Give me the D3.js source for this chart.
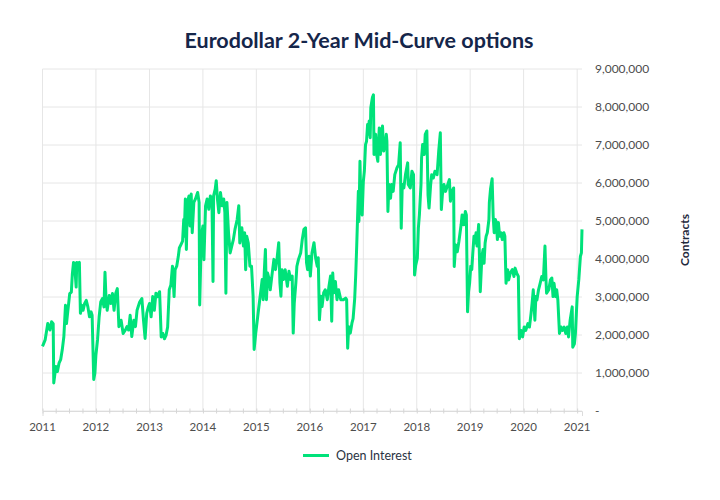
<!DOCTYPE html>
<html>
<head>
<meta charset="utf-8">
<script src="https://cdn.jsdelivr.net/npm/d3@7"></script>
<style>
  body { margin: 0; background: #fff; }
  svg { display: block; font-family: Lato, "Open Sans", sans-serif; }
</style>
</head>
<body>
<script>
// open interest: time as decimal year, value in millions of contracts
var years = [
  2011.00, 2011.05, 2011.10, 2011.14, 2011.17, 2011.20, 2011.21, 2011.25, 2011.28, 2011.31,
  2011.34, 2011.37, 2011.40, 2011.43, 2011.45, 2011.48, 2011.51, 2011.54, 2011.56, 2011.58,
  2011.60, 2011.63, 2011.64, 2011.67, 2011.69, 2011.71, 2011.74, 2011.76, 2011.79, 2011.82,
  2011.85, 2011.88, 2011.91, 2011.93, 2011.96, 2011.98, 2012.00, 2012.03, 2012.06, 2012.09,
  2012.12, 2012.15, 2012.17, 2012.19, 2012.21, 2012.25, 2012.28, 2012.31, 2012.34, 2012.37,
  2012.40, 2012.43, 2012.47, 2012.51, 2012.55, 2012.58, 2012.61, 2012.64, 2012.67, 2012.71,
  2012.74, 2012.77, 2012.82, 2012.86, 2012.89, 2012.92, 2012.95, 2012.98,
  2013.00, 2013.03, 2013.06, 2013.09, 2013.12, 2013.15, 2013.19, 2013.22, 2013.25, 2013.28,
  2013.31, 2013.34, 2013.37, 2013.40, 2013.43, 2013.46, 2013.48, 2013.51, 2013.54, 2013.56,
  2013.59, 2013.62, 2013.64, 2013.65, 2013.67, 2013.69, 2013.71, 2013.74, 2013.76, 2013.78,
  2013.80, 2013.83, 2013.86, 2013.90, 2013.93, 2013.94, 2013.97, 2014.00, 2014.02, 2014.05,
  2014.08, 2014.11, 2014.14, 2014.17, 2014.19, 2014.20, 2014.23, 2014.25, 2014.27, 2014.30,
  2014.33, 2014.36, 2014.39, 2014.41, 2014.43, 2014.45, 2014.48, 2014.51, 2014.54, 2014.57,
  2014.60, 2014.64, 2014.67, 2014.69, 2014.71, 2014.73, 2014.76, 2014.78, 2014.80, 2014.82,
  2014.85, 2014.88, 2014.91, 2014.94, 2014.96, 2014.99,
  2015.01, 2015.04, 2015.08, 2015.11, 2015.13, 2015.15, 2015.17, 2015.19, 2015.21, 2015.24,
  2015.26, 2015.29, 2015.33, 2015.36, 2015.39, 2015.42, 2015.44, 2015.46, 2015.48, 2015.51,
  2015.54, 2015.58, 2015.61, 2015.64, 2015.67, 2015.69, 2015.71, 2015.74, 2015.76, 2015.79,
  2015.83, 2015.86, 2015.89, 2015.92, 2015.94, 2015.96, 2015.99, 2016.01, 2016.04, 2016.08,
  2016.11, 2016.14, 2016.16, 2016.18, 2016.21, 2016.23, 2016.26, 2016.29, 2016.33, 2016.36,
  2016.39, 2016.41, 2016.43, 2016.45, 2016.48, 2016.51, 2016.54, 2016.58, 2016.63, 2016.67,
  2016.69, 2016.71, 2016.73, 2016.76, 2016.79,
  2016.81, 2016.84, 2016.86, 2016.88, 2016.91, 2016.92, 2016.94, 2016.96, 2016.98, 2017.00,
  2017.02, 2017.04, 2017.06, 2017.08, 2017.09, 2017.11, 2017.13, 2017.14, 2017.17, 2017.19,
  2017.20, 2017.22, 2017.23, 2017.25, 2017.27, 2017.28, 2017.30, 2017.32, 2017.34, 2017.36,
  2017.38, 2017.41, 2017.43, 2017.44, 2017.46, 2017.48, 2017.51, 2017.53, 2017.56, 2017.59,
  2017.63, 2017.66, 2017.69, 2017.71, 2017.73, 2017.76, 2017.79, 2017.83, 2017.84, 2017.88,
  2017.91, 2017.94, 2017.96, 2017.98, 2018.01, 2018.03, 2018.05, 2018.08, 2018.09, 2018.11,
  2018.14, 2018.16, 2018.19, 2018.21, 2018.23, 2018.26, 2018.28, 2018.31, 2018.34, 2018.38,
  2018.41, 2018.44, 2018.46, 2018.48, 2018.51, 2018.54, 2018.58, 2018.61, 2018.63, 2018.66,
  2018.69, 2018.70, 2018.73, 2018.76, 2018.79, 2018.83, 2018.85, 2018.88, 2018.91, 2018.93,
  2018.95, 2018.97,
  2018.99, 2019.01, 2019.03, 2019.05, 2019.07, 2019.09, 2019.11, 2019.13, 2019.16, 2019.18,
  2019.19, 2019.22, 2019.24, 2019.26, 2019.28, 2019.30, 2019.32, 2019.35, 2019.36, 2019.38,
  2019.41, 2019.43, 2019.45, 2019.47, 2019.49, 2019.51, 2019.53, 2019.55, 2019.58, 2019.60,
  2019.63, 2019.65, 2019.67, 2019.70, 2019.72, 2019.75, 2019.79, 2019.82, 2019.84, 2019.87,
  2019.90, 2019.92, 2019.95, 2019.98, 2020.01, 2020.04, 2020.08, 2020.11, 2020.14, 2020.16,
  2020.18, 2020.21, 2020.23, 2020.25, 2020.28, 2020.31, 2020.34, 2020.37, 2020.40, 2020.42,
  2020.43, 2020.47, 2020.50, 2020.53, 2020.55, 2020.57, 2020.60, 2020.62, 2020.64, 2020.67,
  2020.70, 2020.73, 2020.76, 2020.79, 2020.82, 2020.84, 2020.87, 2020.91, 2020.92, 2020.95,
  2020.97, 2021.00, 2021.03, 2021.06, 2021.08, 2021.09
];

var openInterest = [
  1.70, 1.87, 2.30, 2.13, 2.35, 2.30, 0.74, 1.17, 1.04, 1.26,
  1.35, 1.61, 1.96, 2.78, 2.30, 2.70, 3.09, 3.13, 3.61, 3.91,
  3.87, 3.26, 3.91, 3.87, 3.91, 2.57, 2.78, 2.65, 2.83, 2.91,
  2.74, 2.48, 2.61, 2.52, 0.83, 1.00, 1.48, 1.87, 2.48, 2.87,
  2.96, 2.74, 3.65, 2.96, 2.65, 3.04, 2.83, 3.09, 2.65, 3.09,
  3.22, 2.22, 2.39, 2.04, 2.13, 2.22, 2.13, 2.52, 1.96, 2.39,
  2.22, 2.65, 2.87, 2.96, 2.39, 1.91, 2.57, 2.74,
  2.83, 2.48, 3.01, 2.65, 3.10, 3.01, 3.14, 1.95, 2.04, 1.90,
  1.99, 2.21, 3.19, 3.32, 3.81, 3.01, 3.72, 3.81, 4.07, 4.29,
  4.38, 4.47, 5.04, 4.60, 5.58, 4.25, 5.49, 5.66, 4.87, 5.71,
  4.69, 5.49, 5.58, 5.75, 5.49, 2.79, 4.60, 4.87, 3.98, 5.40,
  5.58, 5.31, 5.66, 5.49, 3.41, 5.66, 5.84, 6.06, 5.58, 5.22,
  5.75, 5.40, 5.58, 5.22, 3.10, 5.49, 4.69, 4.16, 4.34, 4.51,
  4.78, 5.04, 5.40, 4.42, 4.69, 4.82, 4.34, 4.69, 3.72, 4.60,
  4.42, 3.81, 3.81, 3.01, 1.62, 2.05,
  2.31, 2.67, 3.11, 3.46, 2.93, 3.72, 4.25, 2.93, 3.63, 3.46,
  3.19, 3.55, 3.99, 3.72, 4.03, 4.43, 3.37, 3.02, 3.72, 3.46,
  3.72, 3.28, 3.68, 3.46, 3.55, 2.05, 2.84, 3.37, 3.81, 3.99,
  4.16, 4.52, 4.78, 4.82, 3.90, 3.72, 4.07, 3.55, 4.16, 4.43,
  4.03, 3.81, 4.03, 2.40, 3.02, 2.75, 3.11, 3.19, 2.93, 3.28,
  3.55, 2.36, 3.63, 3.11, 3.41, 2.93, 3.19, 2.93, 2.93, 2.97,
  2.93, 1.65, 2.22, 2.05, 2.31,
  2.43, 2.96, 3.58, 4.37, 5.78, 4.99, 6.57, 5.34, 5.16, 6.04,
  6.31, 7.01, 7.10, 7.54, 7.28, 7.63, 7.19, 7.98, 8.25, 8.32,
  6.75, 6.93, 7.28, 6.75, 6.57, 6.93, 7.45, 6.75, 7.28, 7.50,
  6.84, 7.01, 7.28, 7.10, 5.25, 5.96, 5.60, 5.96, 5.78, 6.22,
  6.40, 6.48, 7.06, 4.81, 5.96, 5.87, 6.22, 6.53, 5.96, 5.87,
  6.31, 6.22, 3.58, 3.84, 4.02, 4.81, 5.16, 5.96, 6.66, 7.01,
  6.75, 7.28, 7.37, 5.69, 5.34, 5.96, 6.22, 6.13, 6.31, 6.22,
  6.84, 7.32, 5.30, 5.69, 5.96, 5.78, 5.96, 6.09, 5.52, 5.78,
  5.87, 3.80, 4.37, 4.19, 4.46, 4.90, 5.16, 4.90, 5.25, 5.16,
  2.61, 3.14,
  3.36, 3.81, 3.72, 4.16, 4.60, 4.42, 4.69, 4.34, 4.91, 3.63,
  3.14, 4.07, 4.25, 3.89, 4.42, 4.60, 4.69, 5.04, 5.49, 5.84,
  6.11, 5.13, 4.69, 5.04, 4.96, 4.51, 4.96, 4.60, 4.69, 4.51,
  4.69, 4.60, 3.36, 3.72, 3.45, 3.63, 3.72, 3.54, 3.76, 3.63,
  3.54, 1.90, 2.12, 1.95, 2.21, 2.12, 2.30, 2.21, 2.57, 2.83,
  3.19, 2.39, 3.01, 2.92, 3.19, 3.36, 3.54, 3.45, 4.34, 3.45,
  3.10, 3.19, 3.45, 3.50, 3.01, 3.36, 3.01, 3.19, 2.92, 2.04,
  2.21, 2.12, 2.21, 2.04, 2.21, 1.95, 2.39, 2.74, 1.68, 1.77,
  2.04, 3.01, 3.45, 4.07, 4.16, 4.78
];

var yTicks = [0, 1e6, 2e6, 3e6, 4e6, 5e6, 6e6, 7e6, 8e6, 9e6];
var xYears = [2011, 2012, 2013, 2014, 2015, 2016, 2017, 2018, 2019, 2020, 2021];

var width = 720, height = 500;
var plotLeft = 42.5, plotRight = 582, plotTop = 69, plotBottom = 411;

var toDate = function(t) {
  var yr = Math.floor(t);
  return new Date(yr, 0, 1 + Math.round((t - yr) * 365));
};

var data = years.map(function(t, i) {
  return { date: toDate(t), value: openInterest[i] * 1e6 };
});

var x = d3.scaleTime()
  .domain([new Date(2011, 0, 1), toDate(2021.09)])
  .range([plotLeft, plotRight]);

var y = d3.scaleLinear()
  .domain([0, 9e6])
  .range([plotBottom, plotTop]);

var svg = d3.select('body')
  .append('svg')
  .attr('width', width)
  .attr('height', height);

// title
svg.append('text')
  .attr('x', 359)
  .attr('y', 48)
  .attr('text-anchor', 'middle')
  .attr('fill', '#15264a')
  .attr('font-size', 21.5)
  .attr('font-weight', 700)
  .text('Eurodollar 2-Year Mid-Curve options');

// grid
svg.append('g')
  .selectAll('line')
  .data(yTicks)
  .join('line')
  .attr('x1', plotLeft)
  .attr('x2', plotRight)
  .attr('y1', function(d) { return y(d); })
  .attr('y2', function(d) { return y(d); })
  .attr('stroke', '#e6e6e6')
  .attr('stroke-width', 1);

svg.append('g')
  .selectAll('line')
  .data(xYears)
  .join('line')
  .attr('x1', function(d) { return x(new Date(d, 0, 1)); })
  .attr('x2', function(d) { return x(new Date(d, 0, 1)); })
  .attr('y1', plotTop)
  .attr('y2', plotBottom)
  .attr('stroke', '#e6e6e6')
  .attr('stroke-width', 1);

// x axis with quarterly minor ticks
var xAxis = svg.append('g')
  .attr('transform', 'translate(0,' + plotBottom + ')')
  .call(d3.axisBottom(x)
    .ticks(d3.timeMonth.every(3))
    .tickSize(5)
    .tickFormat(''));
xAxis.select('.domain').attr('stroke', '#dcdcdc');
xAxis.selectAll('.tick line')
  .attr('stroke', '#d6d6d6')
  .attr('y1', -2.5)
  .attr('y2', 2.5);

svg.append('g')
  .selectAll('text')
  .data(xYears)
  .join('text')
  .attr('x', function(d) { return x(new Date(d, 0, 1)); })
  .attr('y', 431)
  .attr('text-anchor', 'middle')
  .attr('fill', '#4d4d4d')
  .attr('font-size', 11.5)
  .text(function(d) { return d; });

// y axis on the right
var fmt = d3.format(',');
svg.append('g')
  .selectAll('text')
  .data(yTicks)
  .join('text')
  .attr('x', 595)
  .attr('y', function(d) { return y(d) + 4; })
  .attr('fill', '#4d4d4d')
  .attr('font-size', 12)
  .text(function(d) { return d === 0 ? '-' : fmt(d); });

svg.append('text')
  .attr('transform', 'translate(689,240) rotate(-90)')
  .attr('text-anchor', 'middle')
  .attr('fill', '#1f2a3c')
  .attr('font-size', 12)
  .attr('font-weight', 700)
  .text('Contracts');

// series
var line = d3.line()
  .x(function(d) { return x(d.date); })
  .y(function(d) { return y(d.value); });

svg.append('path')
  .datum(data)
  .attr('d', line)
  .attr('fill', 'none')
  .attr('stroke', '#00e27a')
  .attr('stroke-width', 3)
  .attr('stroke-linejoin', 'round');

// legend
svg.append('line')
  .attr('x1', 303)
  .attr('x2', 329)
  .attr('y1', 455.5)
  .attr('y2', 455.5)
  .attr('stroke', '#00e27a')
  .attr('stroke-width', 3);

svg.append('text')
  .attr('x', 336)
  .attr('y', 460)
  .attr('fill', '#2a3342')
  .attr('font-size', 12.5)
  .text('Open Interest');
</script>
</body>
</html>
